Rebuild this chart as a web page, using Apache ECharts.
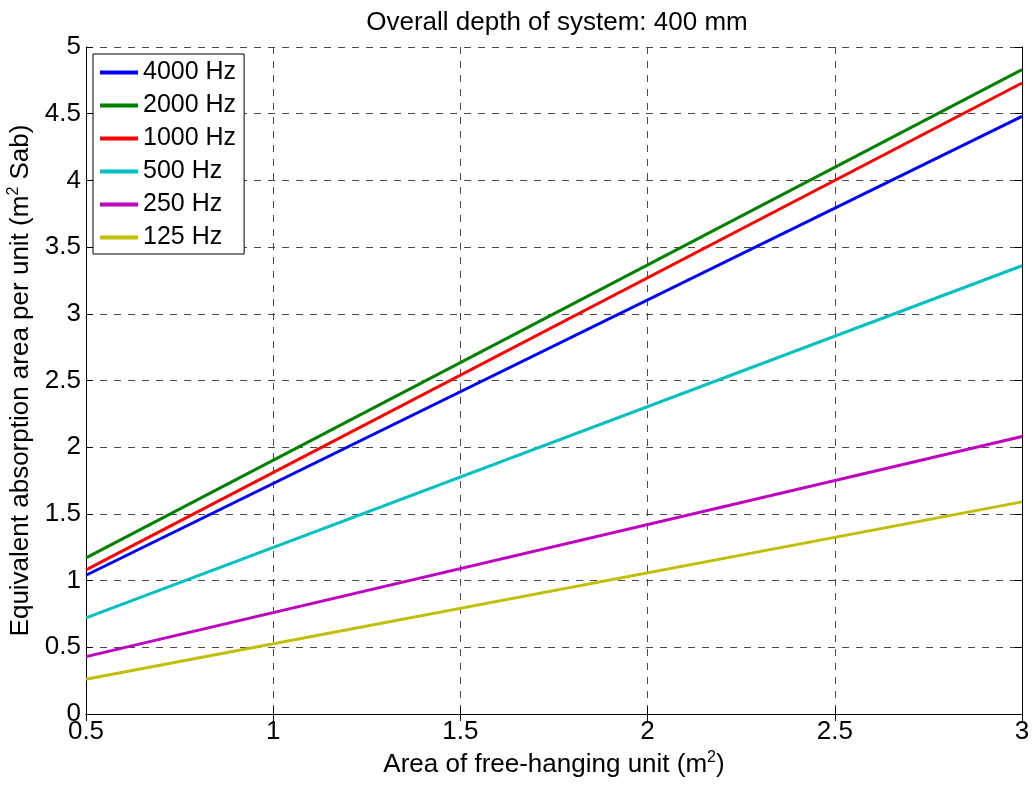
<!DOCTYPE html>
<html>
<head>
<meta charset="utf-8">
<script src="https://cdn.jsdelivr.net/npm/echarts@6/dist/echarts.min.js"></script>
<style>
    html, body { margin: 0; padding: 0; background: #fff; }
    #chart { width: 1034px; height: 787px; }
</style>
</head>
<body>
<div id="chart"></div>
<script>
// area of unit (m2), read at both ends of each line
var areas = [0.5, 3];

var hz4000 = [1.04, 4.48];
var hz2000 = [1.17, 4.83];
var hz1000 = [1.08, 4.73];
var hz500 = [0.72, 3.36];
var hz250 = [0.43, 2.08];
var hz125 = [0.26, 1.59];

var seriesNames = ['4000 Hz', '2000 Hz', '1000 Hz', '500 Hz', '250 Hz', '125 Hz'];
var seriesColors = ['#0000ff', '#008000', '#ff0000', '#00bfbf', '#bf00bf', '#bfbf00'];

var xTicks = [0.5, 1, 1.5, 2, 2.5, 3];
var yTicks = [0, 0.5, 1, 1.5, 2, 2.5, 3, 3.5, 4, 4.5, 5];

function pairs(vals) {
    var out = [];
    for (var i = 0; i < areas.length; i++) {
        out.push([areas[i], vals[i]]);
    }
    return out;
}

var chart = echarts.init(document.getElementById('chart'));

var font = 'Liberation Sans, Arial, sans-serif';
var gridLine = { show: true, lineStyle: { color: '#4a4a4a', type: [7, 7], width: 1 } };
// superscript piece for the axis names
var supStyle = { fontFamily: font, fontSize: 16, color: '#000', padding: [0, 0, 14, 0] };

var allVals = [hz4000, hz2000, hz1000, hz500, hz250, hz125];
var series = [];
for (var s = 0; s < allVals.length; s++) {
    series.push({
        name: seriesNames[s],
        type: 'line',
        data: pairs(allVals[s]),
        showSymbol: false,
        lineStyle: { width: 3, color: seriesColors[s] },
        itemStyle: { color: seriesColors[s] },
        z: 3
    });
}

var option = {
    animation: false,
    title: {
        text: 'Overall depth of system: 400 mm',
        left: 552,
        top: 5,
        textAlign: 'center',
        textStyle: { fontFamily: font, fontSize: 26, fontWeight: 'normal', color: '#000' }
    },
    legend: {
        orient: 'vertical',
        left: 93,
        top: 54,
        padding: [6, 8, 4, 7],
        backgroundColor: '#fff',
        borderColor: '#000',
        borderWidth: 1,
        borderRadius: 0,
        itemWidth: 38,
        itemHeight: 4,
        itemGap: 8,
        icon: 'rect',
        data: seriesNames,
        textStyle: { fontFamily: font, fontSize: 25, color: '#000' }
    },
    grid: {
        left: 86,
        right: 12,
        top: 47,
        bottom: 73,
        containLabel: false,
        outerBoundsMode: 'none'
    },
    xAxis: [{
        type: 'value',
        min: 0.5,
        max: 3,
        interval: 0.5,
        name: 'Area of free-hanging unit (m{sup|2})',
        nameLocation: 'middle',
        nameGap: 35,
        nameTextStyle: {
            fontFamily: font, fontSize: 26, color: '#000',
            rich: { sup: supStyle }
        },
        axisLine: { show: true, lineStyle: { color: '#000', width: 1 } },
        axisTick: { show: true, inside: true, length: 7, lineStyle: { color: '#000' } },
        axisLabel: {
            fontFamily: font, fontSize: 26, color: '#000', margin: 5,
            formatter: function (v) { return xTicks.indexOf(v) >= 0 ? String(v) : ''; }
        },
        splitLine: gridLine
    }, {
        type: 'value',
        position: 'top',
        min: 0.5,
        max: 3,
        interval: 0.5,
        axisLine: { show: true, lineStyle: { color: '#000', width: 1 } },
        axisTick: { show: true, inside: true, length: 7, lineStyle: { color: '#000' } },
        axisLabel: { show: false },
        splitLine: { show: false }
    }],
    yAxis: [{
        type: 'value',
        min: 0,
        max: 5,
        interval: 0.5,
        name: 'Equivalent absorption area per unit (m{sup|2} Sab)',
        nameLocation: 'middle',
        nameGap: 47,
        nameTextStyle: {
            fontFamily: font, fontSize: 26, color: '#000',
            rich: { sup: supStyle }
        },
        axisLine: { show: true, lineStyle: { color: '#000', width: 1 } },
        axisTick: { show: true, inside: true, length: 7, lineStyle: { color: '#000' } },
        axisLabel: {
            fontFamily: font, fontSize: 26, color: '#000', margin: 5,
            formatter: function (v) { return yTicks.indexOf(v) >= 0 ? String(v) : ''; }
        },
        splitLine: gridLine
    }, {
        type: 'value',
        position: 'right',
        min: 0,
        max: 5,
        interval: 0.5,
        axisLine: { show: true, lineStyle: { color: '#000', width: 1 } },
        axisTick: { show: true, inside: true, length: 7, lineStyle: { color: '#000' } },
        axisLabel: { show: false },
        splitLine: { show: false }
    }],
    series: series
};

option && chart.setOption(option);
</script>
</body>
</html>
